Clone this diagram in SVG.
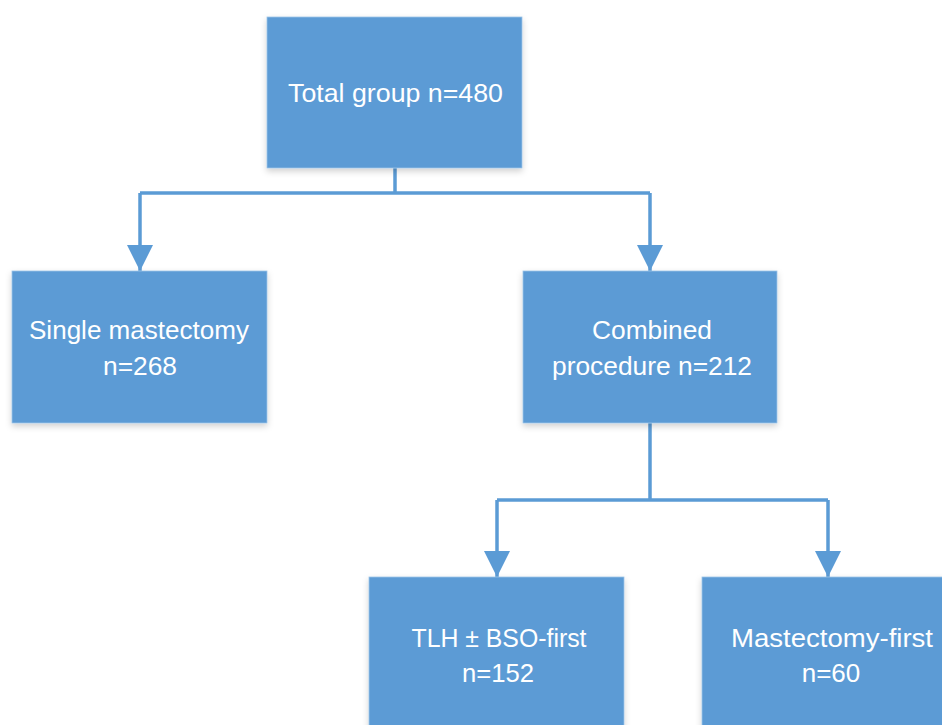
<svg xmlns="http://www.w3.org/2000/svg" width="942" height="725" viewBox="0 0 942 725">
<defs>
<filter id="sh" x="-10%" y="-10%" width="120%" height="130%">
<feDropShadow dx="0" dy="3" stdDeviation="3" flood-color="#000" flood-opacity="0.18"/>
</filter>
<marker id="ah" markerUnits="userSpaceOnUse" markerWidth="26" markerHeight="26" refX="26" refY="13" orient="auto">
<path d="M0,0 L26,13 L0,26 Z" fill="#5B9BD5"/>
</marker>
<style>
.box{fill:#5B9BD5;stroke:#9DC3E6;stroke-width:0.8;filter:url(#sh)}
.t{font-family:"Liberation Sans",Arial,sans-serif;font-size:26px;fill:#fff;text-anchor:middle}
.c{fill:none;stroke:#5B9BD5;stroke-width:3.5}
</style>
</defs>
<rect width="942" height="725" fill="#fff"/>
<g id="connectors">
<path class="c" d="M395,168 V193"/>
<path class="c" d="M140,193 H650"/>
<path class="c" d="M140,193 V271" marker-end="url(#ah)"/>
<path class="c" d="M650,193 V271" marker-end="url(#ah)"/>
<path class="c" d="M650,423 V500"/>
<path class="c" d="M497,500 H828"/>
<path class="c" d="M497,500 V577" marker-end="url(#ah)"/>
<path class="c" d="M828,500 V577" marker-end="url(#ah)"/>
</g>
<g id="total">
<rect class="box" x="267" y="17" width="255" height="151"/>
<text class="t" x="395.5" y="102" textLength="215" lengthAdjust="spacingAndGlyphs">Total group n=480</text>
</g>
<g id="single">
<rect class="box" x="12" y="271" width="255" height="152"/>
<text class="t" x="139" y="339" textLength="220" lengthAdjust="spacingAndGlyphs">Single mastectomy</text>
<text class="t" x="140" y="375" textLength="74" lengthAdjust="spacingAndGlyphs">n=268</text>
</g>
<g id="combined">
<rect class="box" x="523" y="271" width="254" height="152"/>
<text class="t" x="652" y="339" textLength="120" lengthAdjust="spacingAndGlyphs">Combined</text>
<text class="t" x="652" y="375" textLength="200" lengthAdjust="spacingAndGlyphs">procedure n=212</text>
</g>
<g id="tlh">
<rect class="box" x="369" y="577" width="255" height="160"/>
<text class="t" x="499" y="647" textLength="175" lengthAdjust="spacingAndGlyphs">TLH ± BSO-first</text>
<text class="t" x="498" y="682" textLength="72" lengthAdjust="spacingAndGlyphs">n=152</text>
</g>
<g id="mastfirst">
<rect class="box" x="702" y="577" width="255" height="160"/>
<text class="t" x="832" y="647" textLength="202" lengthAdjust="spacingAndGlyphs">Mastectomy-first</text>
<text class="t" x="831" y="682">n=60</text>
</g>
</svg>
